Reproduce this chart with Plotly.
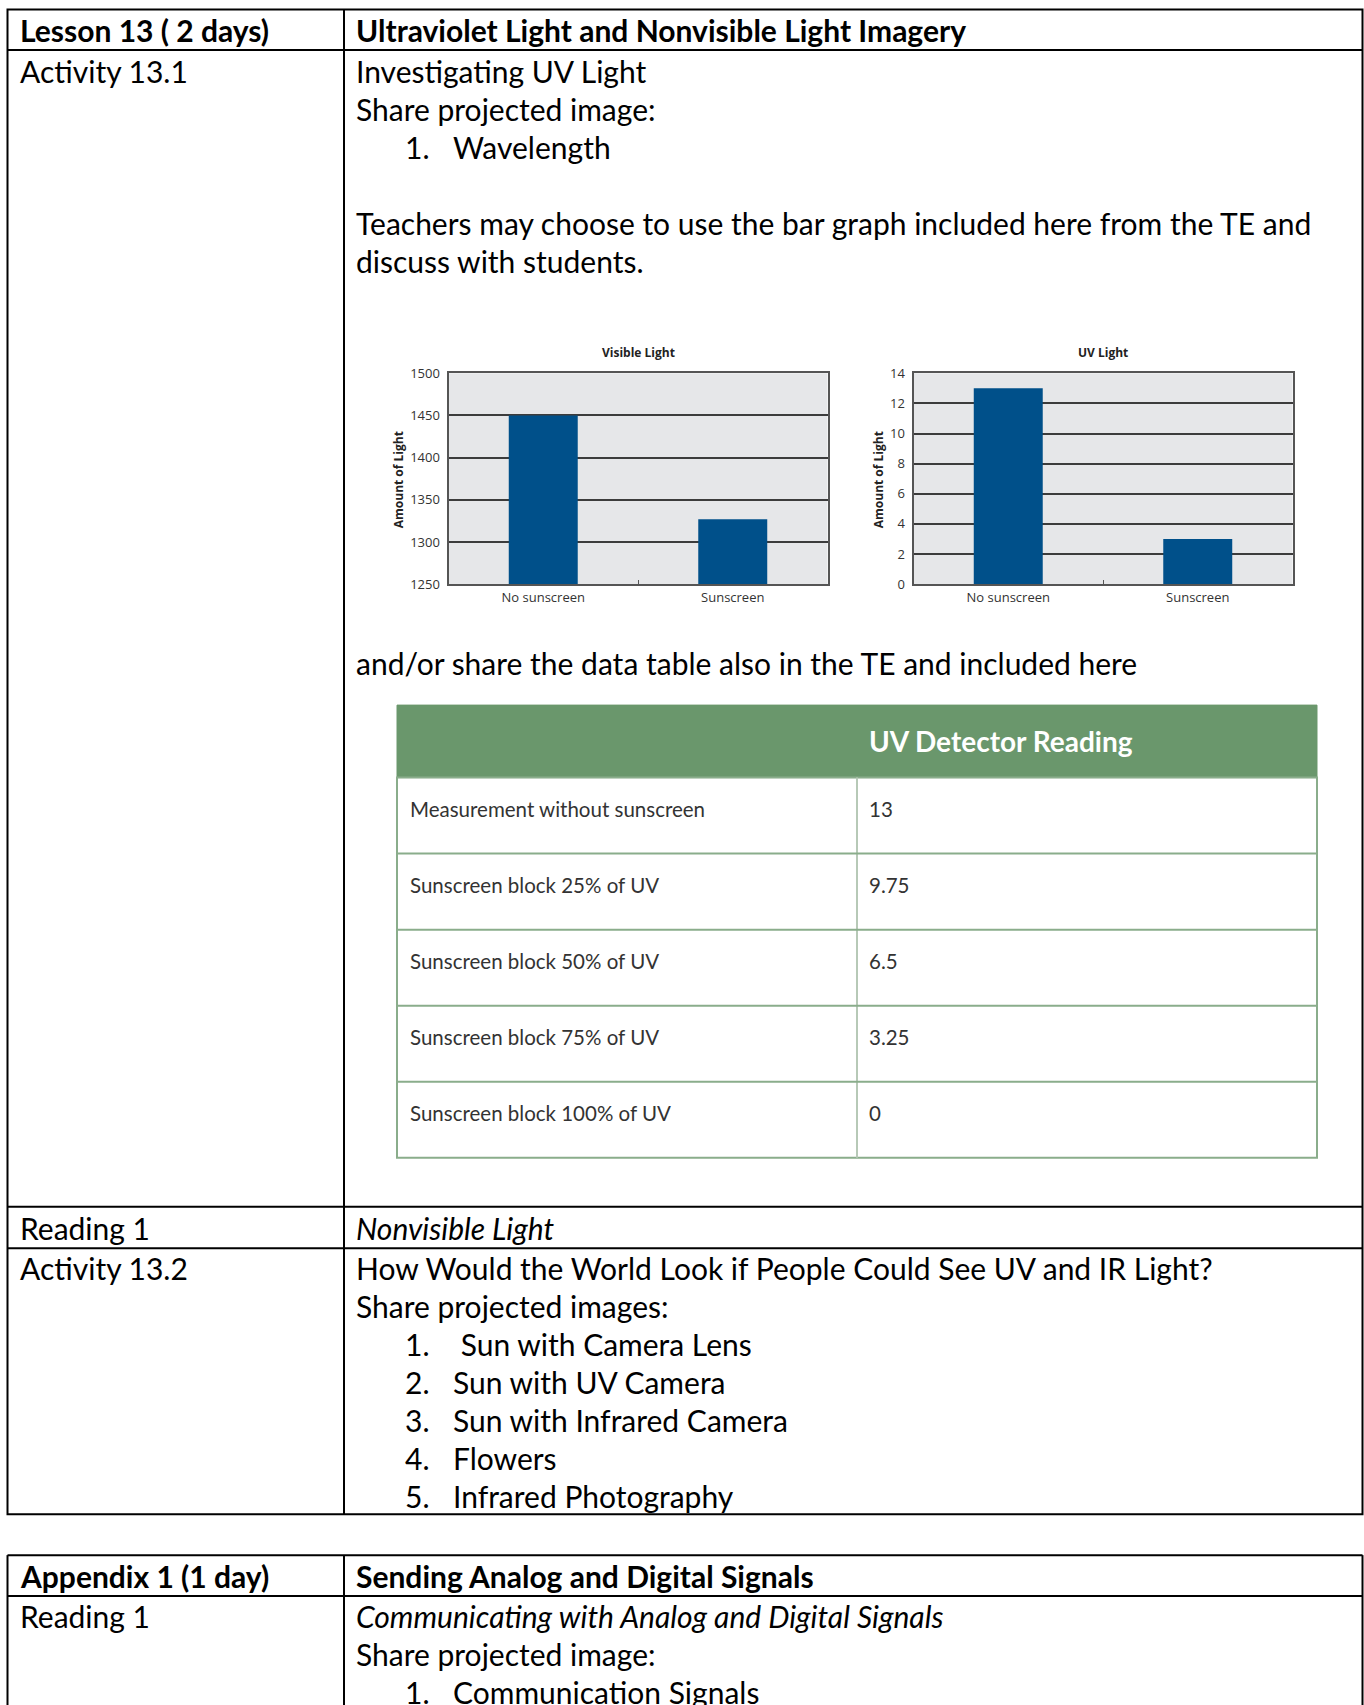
import plotly.graph_objects as go

W, H = 1364, 1705

# ---------------- data ----------------
conditions = ["No sunscreen", "Sunscreen"]
visible_light = [1450, 1327]
uv_light = [13, 3]
visible_ticks = [1250, 1300, 1350, 1400, 1450, 1500]
uv_ticks = [0, 2, 4, 6, 8, 10, 12, 14]

uv_table_header = "UV Detector Reading"
uv_table_labels = ["Measurement without sunscreen", "Sunscreen block 25% of UV",
                   "Sunscreen block 50% of UV", "Sunscreen block 75% of UV",
                   "Sunscreen block 100% of UV"]
uv_table_values = ["13", "9.75", "6.5", "3.25", "0"]

lesson_header = ["Lesson 13 ( 2 days)", "Ultraviolet Light and Nonvisible Light Imagery"]
activity1_lines = ["Investigating UV Light", "Share projected image:"]
activity1_list = ["Wavelength"]
teacher_lines = ["Teachers may choose to use the bar graph included here from the TE and",
                 "discuss with students."]
table_note = "and/or share the data table also in the TE and included here"
activity2_lines = ["How Would the World Look if People Could See UV and IR Light?",
                   "Share projected images:"]
activity2_list = [" Sun with Camera Lens", "Sun with UV Camera", "Sun with Infrared Camera",
                  "Flowers", "Infrared Photography"]
appendix_header = ["Appendix 1 (1 day)", "Sending Analog and Digital Signals"]
appendix_lines = ["Share projected image:"]
appendix_list = ["Communication Signals"]

# ---------------- helpers ----------------
def px(x):
    return x / W

def py(y):
    # page is captured with a small vertical offset / scale; compensate
    yi = (y - 8.5) / 0.99
    return 1 - yi / H

FONT = "Lato"
FS = 30
LINE = 38.1

shapes = []
annotations = []

def line(x0, y0, x1, y1, color="black", width=2):
    shapes.append(dict(type="line", xref="paper", yref="paper",
                       x0=px(x0), y0=py(y0), x1=px(x1), y1=py(y1),
                       line=dict(color=color, width=width)))

def rect(x0, y0, x1, y1, fill=None, color="black", width=2):
    shapes.append(dict(type="rect", xref="paper", yref="paper",
                       x0=px(x0), y0=py(y0), x1=px(x1), y1=py(y1),
                       fillcolor=fill if fill else "rgba(0,0,0,0)",
                       line=dict(color=color, width=width)))

def text(x, y, s, size=FS, bold=False, italic=False, color="black", font=FONT,
         xanchor="left", angle=0):
    t = s
    if bold:
        t = "<b>" + t + "</b>"
    if italic:
        t = "<i>" + t + "</i>"
    annotations.append(dict(xref="paper", yref="paper", x=px(x), y=py(y), text=t,
                            showarrow=False, xanchor=xanchor, yanchor="middle",
                            textangle=angle,
                            font=dict(family=font, size=size, color=color)))

# ---------------- main table 1 ----------------
L, R, DIV = 7.5, 1362.5, 344
T1_TOP, T1_BOT = 9, 1514.5
rect(L, T1_TOP, R, T1_BOT)
line(DIV, T1_TOP, DIV, T1_BOT)
for yl in [49.5, 1207, 1248.5]:
    line(L, yl, R, yl)

LX, RX, NX, TX = 17.5, 353.5, 402.5, 450.5

text(LX, 30, lesson_header[0], bold=True)
text(RX, 30, lesson_header[1], bold=True)

y = 70.5
text(LX, y, "Activity 13.1")
for s in activity1_lines:
    text(RX, y, s)
    y += LINE
for i, s in enumerate(activity1_list):
    text(NX, y, f"{i + 1}.")
    text(TX, y, s)
    y += LINE
y = 223
for s in teacher_lines:
    text(RX, y, s)
    y += LINE
text(RX, 662.5, table_note)

text(LX, 1228, "Reading 1")
text(RX, 1228, "Nonvisible Light", italic=True)

y = 1268
text(LX, y, "Activity 13.2")
for s in activity2_lines:
    text(RX, y, s)
    y += LINE
for i, s in enumerate(activity2_list):
    text(NX, y, f"{i + 1}.")
    text(TX, y, s)
    y += LINE

# ---------------- main table 2 ----------------
T2_TOP = 1555.5
line(L, T2_TOP, R, T2_TOP)
line(L, T2_TOP, L, H + 10)
line(R, T2_TOP, R, H + 10)
line(DIV, T2_TOP, DIV, H + 10)
line(L, 1596.5, R, 1596.5)
text(LX, 1576.5, appendix_header[0], bold=True)
text(RX, 1576.5, appendix_header[1], bold=True)
text(LX, 1616.5, "Reading 1")
text(RX, 1616.5, "Communicating with Analog and Digital Signals", italic=True)
y = 1654.5
for s in appendix_lines:
    text(RX, y, s)
    y += LINE
for i, s in enumerate(appendix_list):
    text(NX, y, f"{i + 1}.")
    text(TX, y, s)
    y += LINE

# ---------------- green data table ----------------
GL, GR, GD = 397, 1317, 857
G_TOP, G_HEAD = 705, 777.5
ROW_H = 76.1
GREEN = "#6a976c"
GLINE = "#8aad8b"
rect(GL, G_TOP, GR, G_HEAD, fill=GREEN, color=GREEN, width=1)
G_BOT = G_HEAD + ROW_H * len(uv_table_labels)
rect(GL, G_HEAD, GR, G_BOT, color=GLINE, width=2)
line(GD, G_HEAD, GD, G_BOT, color="#b7c9b7", width=2)
for i in range(1, len(uv_table_labels)):
    yl = G_HEAD + ROW_H * i
    line(GL, yl, GR, yl, color=GLINE, width=2)
text(GD + 10, (G_TOP + G_HEAD) / 2, uv_table_header, size=28, bold=True, color="white")
for i, (lab, val) in enumerate(zip(uv_table_labels, uv_table_values)):
    yc = G_HEAD + ROW_H * i + 31
    text(GL + 11, yc, lab, size=20.5, color="#333333")
    text(GD + 10, yc, val, size=20.5, color="#333333")

# ---------------- bar charts ----------------
BAR = "#00508a"
CHART_FONT = "Open Sans"

fig = go.Figure()
fig.add_trace(go.Bar(x=conditions, y=visible_light, marker=dict(color=BAR, line=dict(width=0)),
                     xaxis="x", yaxis="y", showlegend=False))
fig.add_trace(go.Bar(x=conditions, y=uv_light, marker=dict(color=BAR, line=dict(width=0)),
                     xaxis="x2", yaxis="y2", showlegend=False))

PY0, PY1 = 373, 584
V_X0, V_X1 = 448.5, 827.5
U_X0, U_X1 = 913.5, 1292.5

axis_common_x = dict(showline=True, mirror=True, linecolor="#555555", linewidth=2,
                     showgrid=False, ticks="inside", ticklen=4, tickcolor="#555555",
                     tickson="boundaries", range=[-0.5, 1.5],
                     tickfont=dict(family=CHART_FONT, size=13, color="#333333"),
                     fixedrange=True)
axis_common_y = dict(showline=True, mirror=True, linecolor="#555555", linewidth=2,
                     showgrid=True, gridcolor="#3c3c3c", gridwidth=1.6, zeroline=False,
                     ticks="", ticklabelstandoff=4,
                     tickfont=dict(family=CHART_FONT, size=13, color="#333333"),
                     fixedrange=True)

fig.update_layout(
    xaxis=dict(domain=[px(V_X0), px(V_X1)], anchor="y", **axis_common_x),
    yaxis=dict(domain=[py(PY1), py(PY0)], anchor="x", range=[1250, 1500],
               tickvals=visible_ticks, **axis_common_y),
    xaxis2=dict(domain=[px(U_X0), px(U_X1)], anchor="y2", **axis_common_x),
    yaxis2=dict(domain=[py(PY1), py(PY0)], anchor="x2", range=[0, 14],
                tickvals=uv_ticks, **axis_common_y),
    bargap=0.636,
    plot_bgcolor="#e6e7e9",
    paper_bgcolor="white",
    width=W, height=H,
    margin=dict(l=0, r=0, t=0, b=0),
    showlegend=False,
)

# chart titles and axis titles
text((V_X0 + V_X1) / 2, 352, "Visible Light", size=12, bold=True, font=CHART_FONT,
     color="#222222", xanchor="center")
text((U_X0 + U_X1) / 2, 352, "UV Light", size=12, bold=True, font=CHART_FONT,
     color="#222222", xanchor="center")
text(398, 480, "Amount of Light", size=12, bold=True, font=CHART_FONT,
     color="#222222", xanchor="center", angle=-90)
text(878, 480, "Amount of Light", size=12, bold=True, font=CHART_FONT,
     color="#222222", xanchor="center", angle=-90)

fig.update_layout(shapes=shapes, annotations=annotations)
fig.write_html("out.html")
